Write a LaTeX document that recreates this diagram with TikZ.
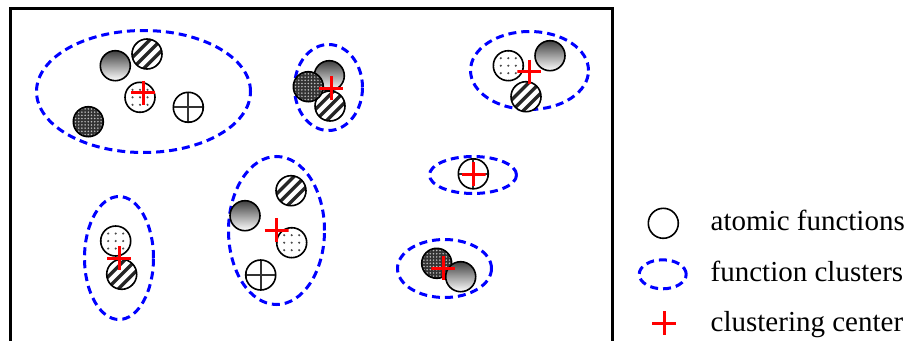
\documentclass[tikz,border=0pt]{standalone}
\usepackage{fontspec}
\setmainfont{Liberation Serif}
\usetikzlibrary{shapes.geometric}
\begin{document}
\begin{tikzpicture}[x=1pt,y=-1pt,
  cluster/.style={ellipse, draw=blue, line width=3pt, dash pattern=on 8pt off 5pt, inner sep=0pt},
  atom/.style={circle, draw=black, line width=1.6pt, fill=white, minimum size=30pt, inner sep=0pt},
  grad/.style={atom, top color=black!75, bottom color=white},
  stripes/.style={atom, path picture={\foreach \k in {-4,...,4} \draw[line width=3.4pt, black!85] (path picture bounding box.center) ++(\k*11.3pt-20pt,-20pt) -- ++(40pt,40pt);}},
  dots/.style={atom, path picture={\foreach \i in {-3,...,3} \foreach \j in {-3,...,3} \fill[black!70] (path picture bounding box.center) ++(\i*7.5pt,\j*7.5pt) circle (1.2pt);}},
  dark/.style={atom, fill=black!80, path picture={\foreach \i in {-5,...,5} \foreach \j in {-5,...,5} \fill[white!75!black] (path picture bounding box.center) ++(\i*3.2pt,\j*3.2pt) circle (0.85pt);}},
  gridc/.style={atom, path picture={\draw[line width=1.8pt, black!80, step=15pt] (path picture bounding box.south west) grid (path picture bounding box.north east);}},
  crossmark/.style={minimum size=24pt, inner sep=0pt, path picture={\draw[red, line width=3pt] (path picture bounding box.west) -- (path picture bounding box.east) (path picture bounding box.north) -- (path picture bounding box.south);}},
  legtext/.style={anchor=base west, inner sep=0pt, font=\fontsize{29}{34}\selectfont}
]
\useasboundingbox (0,0) rectangle (909,340);
% frame
\draw[line width=3pt] (10,342) -- (10,8.5) -- (612,8.5) -- (612,342);

% clusters
\node[cluster, minimum width=214pt, minimum height=122pt] (e1) at (143.5,91.5) {};
\node[cluster, minimum width=68pt, minimum height=86pt] (e2) at (328.5,87.5) {};
\node[cluster, minimum width=118pt, minimum height=78pt] (e3) at (529.5,70.5) {};
\node[cluster, minimum width=87pt, minimum height=37pt] (e4) at (473,175) {};
\node[cluster, minimum width=69pt, minimum height=123pt] (e5) at (119,258) {};
\node[cluster, minimum width=96pt, minimum height=148pt] (e6) at (276.5,230.5) {};
\node[cluster, minimum width=94pt, minimum height=58pt] (e7) at (444.5,268.5) {};

% cluster 1
\node[grad] (a11) at (115.3,65.7) {};
\node[stripes] (a12) at (147,54) {};
\node[dots] (a13) at (140,97.3) {};
\node[gridc] (a14) at (188.3,107.3) {};
\node[dark] (a15) at (88.3,121.7) {};
\node[crossmark] (c1) at (143,92.8) {};

% cluster 2
\node[grad] (a21) at (329.3,75.7) {};
\node[stripes] (a22) at (330,106) {};
\node[dark] (a23) at (308.3,86.7) {};
\node[crossmark] (c2) at (331,88.3) {};

% cluster 3
\node[dots] (a31) at (508.3,65.7) {};
\node[grad] (a32) at (550,55.7) {};
\node[stripes] (a33) at (526,96.7) {};
\node[crossmark] (c3) at (529.3,71.7) {};

% cluster 4
\node[gridc] (a41) at (473.3,173.8) {};
\node[crossmark] (c4) at (473.5,174) {};

% cluster 5
\node[dots] (a51) at (115.7,241) {};
\node[stripes] (a52) at (121.7,274.3) {};
\node[crossmark] (c5) at (119,258.3) {};

% cluster 6
\node[stripes] (a61) at (291,190.7) {};
\node[grad] (a62) at (245,215.7) {};
\node[dots] (a63) at (291.7,242.7) {};
\node[gridc] (a64) at (260.7,275) {};
\node[crossmark] (c6) at (276.7,230) {};

% cluster 7
\node[dark] (a71) at (436.7,263.3) {};
\node[grad] (a72) at (460.7,276.7) {};
\node[crossmark] (c7) at (443.3,268.3) {};

% legend
\node[atom, minimum size=30pt] (la) at (663.3,223.3) {};
\node[cluster, minimum width=47pt, minimum height=29pt] (le) at (662.7,274.3) {};
\node[crossmark] (lc) at (664,323.3) {};
\node[legtext] (t1) at (710.5,230) {atomic functions};
\node[legtext] (t2) at (710.5,281) {function clusters};
\node[legtext] (t3) at (710.5,331.5) {clustering center};
\end{tikzpicture}
\end{document}
